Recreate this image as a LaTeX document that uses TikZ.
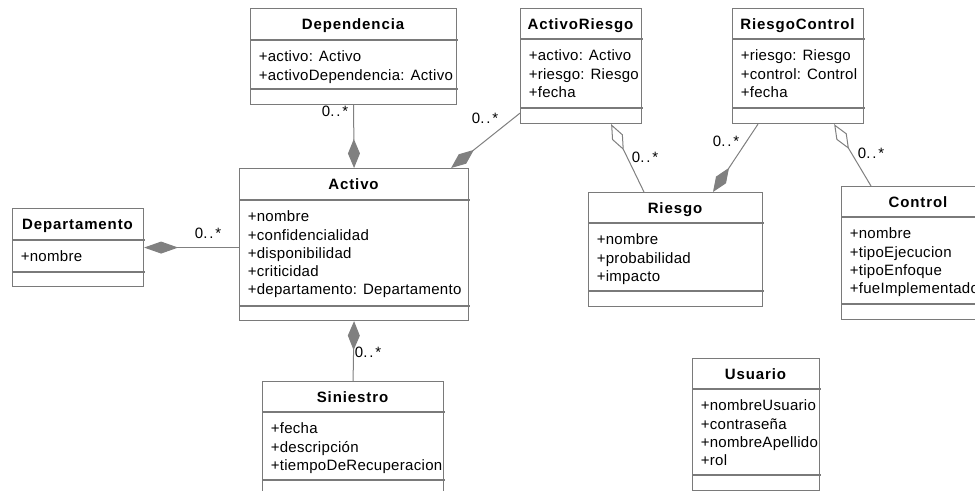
\documentclass[tikz,border=0pt]{standalone}
\usepackage{fontspec}
\setmainfont{Liberation Sans}
\newfontfamily\attrfamily[LetterSpace=2]{Liberation Sans}
\newfontfamily\ttlfamily[LetterSpace=6]{Liberation Sans}
\usetikzlibrary{arrows.meta,calc}

\definecolor{linegray}{RGB}{128,128,128}
\definecolor{boxgray}{RGB}{122,122,122}

% multiplicity text with the loose dot spacing
\newcommand\manymult{0.\kern1.3pt.\kern1.3pt*}

% UML class box:
% #1 name, #2 left, #3 top, #4 right, #5 bottom,
% #6 title separator y, #7 attribute separator y, #8 title, #9 attributes
\newcommand\umlclass[9]{%
  \node[umlbox, minimum width={(#4-#2)*0.75pt}, minimum height={(#5-#3)*0.75pt}] (#1) at (#2,#3) {};
  \draw[sepline] (#2,#6) -- (#4+2,#6);
  \draw[sepline] (#2,#7) -- (#4+2,#7);
  \node[ttl] (#1-title) at ({(#2+#4)/2},{(#3+#6)/2+6}) {#8};
  \foreach \attrtext [count=\attrno] in {#9}
    \node[attr] (#1-a\attrno) at (#2+8.5,#6+3.5+\attrno*18.3) {\attrtext};
}

\begin{document}
\begin{tikzpicture}[x=0.75pt,y=-0.75pt,
  umlbox/.style={draw=boxgray, line width=0.85pt, fill=white, inner sep=0pt, anchor=north west},
  sepline/.style={draw=boxgray, line width=0.85pt},
  ttl/.style={font=\ttlfamily\bfseries\fontsize{11.25}{13.8}\selectfont, anchor=base, inner sep=0pt},
  attr/.style={font=\attrfamily\fontsize{11.25}{13.8}\selectfont, anchor=base west, inner sep=0pt},
  mult/.style={font=\attrfamily\fontsize{11.25}{13.8}\selectfont, inner sep=0pt},
  assoc/.style={draw=linegray, line width=0.75pt},
  comp/.style={assoc, {Diamond[length=21.75pt, width=9pt]}-},
  complong/.style={assoc, {Diamond[length=25.5pt, width=9pt]}-},
  aggr/.style={assoc, {Diamond[open, length=21.75pt, width=9pt]}-}
]
\clip (0,0) rectangle (975,491);
\fill[white] (0,0) rectangle (975,491);

% classes
\umlclass{dep}{250}{8}{456}{104}{40}{89}{Dependencia}{+activo: Activo,+activoDependencia: Activo}
\umlclass{ar}{520}{8}{641}{123}{39}{108}{ActivoRiesgo}{+activo: Activo,+riesgo: Riesgo,+fecha}
\umlclass{rc}{732}{8}{863}{123}{39}{108}{RiesgoControl}{+riesgo: Riesgo,+control: Control,+fecha}
\umlclass{act}{239}{168}{468}{320}{200}{306}{Activo}{+nombre,+confidencialidad,+disponibilidad,+criticidad,+departamento: Departamento}
\umlclass{rie}{588}{192}{762}{306}{223}{291}{Riesgo}{+nombre,+probabilidad,+impacto}
\umlclass{ctl}{841}{186}{995}{319}{217}{304}{Control}{+nombre,+tipoEjecucion,+tipoEnfoque,+fueImplementado}
\umlclass{dpt}{12}{208}{143}{286}{240}{272}{Departamento}{+nombre}
\umlclass{sin}{262}{381}{443}{510}{412}{480}{Siniestro}{+fecha,+descripción,+tiempoDeRecuperacion}
\umlclass{usr}{692}{358}{819}{490}{389}{475}{Usuario}{+nombreUsuario,+contraseña,+nombreApellido,+rol}

% associations
\draw[comp] (act.north) -- (dep.south);
\draw[comp] ($(act.north east)+(-18,0)$) -- ($(ar.south west)+(0,-11)$);
\draw[aggr] ($(ar.south east)+(-31,0)$) -- ($(rie.north west)+(56,0)$);
\draw[comp] ($(rie.north west)+(125,0)$) -- ($(rc.south west)+(26,0)$);
\draw[aggr] ($(rc.south east)+(-30,0)$) -- ($(ctl.north west)+(30,0)$);
\draw[complong] (dpt.east) -- (dpt.east -| act.west);
\draw[comp] (act.south) -- (sin.north);

% multiplicities
\node[mult] (m-dep) at (335,111) {\manymult};
\node[mult] (m-ar) at (485,118) {\manymult};
\node[mult] (m-rie) at (645,157) {\manymult};
\node[mult] (m-rc) at (726,141) {\manymult};
\node[mult] (m-ctl) at (871,153) {\manymult};
\node[mult] (m-dpt) at (208,233) {\manymult};
\node[mult] (m-sin) at (368,352) {\manymult};
\end{tikzpicture}
\end{document}
